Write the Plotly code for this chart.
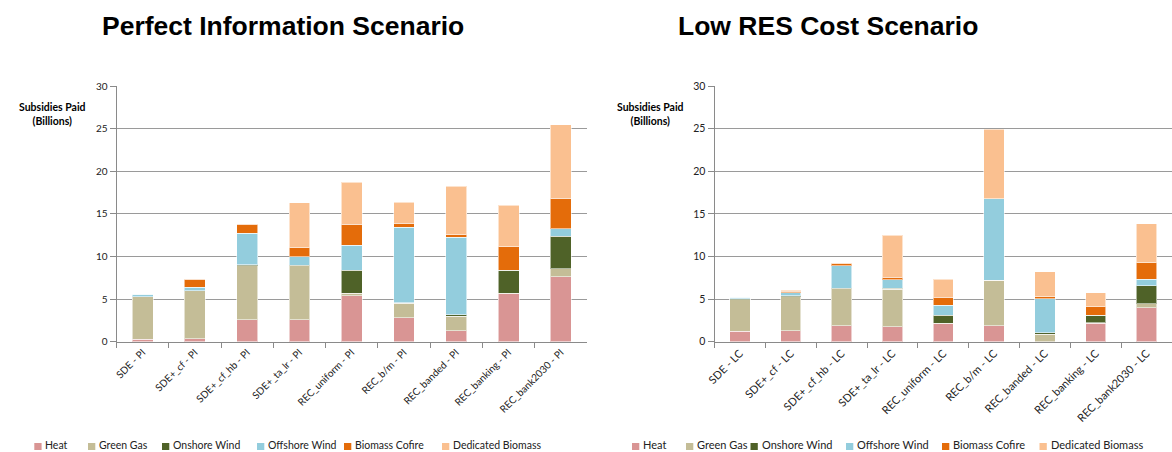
import plotly.graph_objects as go

W, H = 1172, 452

categories_pi = ["SDE - PI", "SDE+_cf - PI", "SDE+_cf_hb - PI", "SDE+_ta_lr - PI", "REC_uniform - PI",
                 "REC_b/m - PI", "REC_banded - PI", "REC_banking - PI", "REC_bank2030 - PI"]
categories_lc = ["SDE - LC", "SDE+_cf - LC", "SDE+_cf_hb - LC", "SDE+_ta_lr - LC", "REC_uniform - LC",
                 "REC_b/m - LC", "REC_banded - LC", "REC_banking - LC", "REC_bank2030 - LC"]

series_names = ["Heat", "Green Gas", "Onshore Wind", "Offshore Wind", "Biomass Cofire", "Dedicated Biomass"]

heat_pi = [0.3, 0.35, 2.6, 2.6, 5.4, 2.8, 1.3, 5.6, 7.6]
green_gas_pi = [4.95, 5.65, 6.3, 6.3, 0.3, 1.7, 1.7, 0.1, 0.95]
onshore_pi = [0, 0, 0.1, 0.05, 2.7, 0.08, 0.15, 2.7, 3.85]
offshore_pi = [0.3, 0.37, 3.75, 1.0, 2.9, 8.87, 9.1, 0, 0.85]
cofire_pi = [0, 0.98, 1.05, 1.1, 2.5, 0.43, 0.3, 2.75, 3.6]
dedicated_pi = [0, 0, 0.06, 5.25, 4.93, 2.47, 5.67, 4.85, 8.6]

heat_lc = [1.2, 1.3, 1.9, 1.75, 2.1, 1.9, 0, 2.15, 4.0]
green_gas_lc = [3.75, 3.95, 4.3, 4.4, 0.05, 5.3, 0.9, 0.08, 0.45]
onshore_lc = [0.1, 0.12, 0.1, 0.1, 0.95, 0.02, 0.15, 0.9, 2.1]
offshore_lc = [0.15, 0.4, 2.6, 1.0, 1.17, 9.55, 4.0, 0, 0.8]
cofire_lc = [0, 0.15, 0.25, 0.3, 0.95, 0, 0.25, 0.97, 1.9]
dedicated_lc = [0, 0.1, 0.08, 4.95, 2.1, 8.13, 2.9, 1.65, 4.6]

y_ticks = [0, 5, 10, 15, 20, 25, 30]

colors = ["#D99594", "#C4BD97", "#4F6228", "#93CDDD", "#E46C0A", "#FAC090"]

pi_data = [heat_pi, green_gas_pi, onshore_pi, offshore_pi, cofire_pi, dedicated_pi]
lc_data = [heat_lc, green_gas_lc, onshore_lc, offshore_lc, cofire_lc, dedicated_lc]

fig = go.Figure()
for name, col, vals in zip(series_names, colors, pi_data):
    fig.add_trace(go.Bar(x=categories_pi, y=vals, name=name, marker_color=col,
                         marker_line=dict(color="rgba(255,255,255,0.55)", width=1),
                         width=0.4, xaxis="x", yaxis="y", showlegend=False))
for name, col, vals in zip(series_names, colors, lc_data):
    fig.add_trace(go.Bar(x=categories_lc, y=vals, name=name, marker_color=col,
                         marker_line=dict(color="rgba(255,255,255,0.55)", width=1),
                         width=0.4, xaxis="x2", yaxis="y2", showlegend=False))

def px(x):
    return x / W

def py(y):
    return 1 - y / H

FONT = "Lato, Carlito, Arial"

def yaxis_style(size):
    return dict(range=[0, 30], tickvals=y_ticks, showgrid=True, gridcolor="#9a9a9a", gridwidth=1,
                showline=True, linecolor="#8a8a8a", linewidth=1, ticks="outside", ticklen=6,
                tickcolor="#8a8a8a", tickfont=dict(family=FONT, size=size, color="#222"),
                zeroline=False, fixedrange=True, automargin=False, domain=[py(341.7), py(86)])

def xaxis_style(size):
    return dict(type="category", tickangle=-45, tickfont=dict(family=FONT, size=size, color="#222"),
                showline=True, linecolor="#8a8a8a", linewidth=1, ticks="outside", ticklen=5,
                tickcolor="#8a8a8a", tickson="boundaries", showgrid=False, fixedrange=True,
                automargin=False)

fig.update_layout(
    width=W, height=H,
    margin=dict(l=0, r=0, t=0, b=0, pad=0, autoexpand=False),
    paper_bgcolor="white", plot_bgcolor="white",
    barmode="stack", bargap=0.6,
    xaxis=dict(domain=[px(116.5), px(587)], anchor="y", **xaxis_style(10)),
    yaxis=dict(anchor="x", **yaxis_style(10)),
    xaxis2=dict(domain=[px(714.5), 1.0], anchor="y2", **xaxis_style(11)),
    yaxis2=dict(anchor="x2", **yaxis_style(10.5)),
    showlegend=False,
)

annotations = []
shapes = []
title_font = dict(family="Liberation Sans, Arial", size=26.5, color="black")
annotations.append(dict(text="<b>Perfect Information Scenario</b>", x=px(283), y=py(26), xref="paper",
                        yref="paper", xanchor="center", yanchor="middle", showarrow=False, font=title_font))
annotations.append(dict(text="<b>Low RES Cost Scenario</b>", x=px(828), y=py(26), xref="paper",
                        yref="paper", xanchor="center", yanchor="middle", showarrow=False, font=title_font))

ytitle_font = dict(family=FONT, size=10.5, color="black")
for cx in (52, 650):
    annotations.append(dict(text="<b>Subsidies Paid<br>(Billions)</b>", x=px(cx), y=py(114),
                            xref="paper", yref="paper", xanchor="center", yanchor="middle",
                            showarrow=False, font=ytitle_font, align="center"))

left_sq = [34.3, 88, 162, 257, 344, 442]
right_sq = [632, 686, 750.5, 846, 942, 1039.5]
for sqs, fsize, cy in ((left_sq, 10.5, 444.5), (right_sq, 11, 444.5)):
    lfont = dict(family=FONT, size=fsize, color="#222")
    for x0, name, col in zip(sqs, series_names, colors):
        shapes.append(dict(type="rect", xref="paper", yref="paper", x0=px(x0), x1=px(x0 + 7.3),
                           y0=py(450), y1=py(443), fillcolor=col, line=dict(width=0)))
        annotations.append(dict(text=name, x=px(x0 + 9), y=py(cy), xref="paper", yref="paper",
                                xanchor="left", yanchor="middle", showarrow=False, font=lfont))

fig.update_layout(annotations=annotations, shapes=shapes)

fig.write_html("out.html", post_script="document.body.style.margin='0';",
               config={"displayModeBar": False})
